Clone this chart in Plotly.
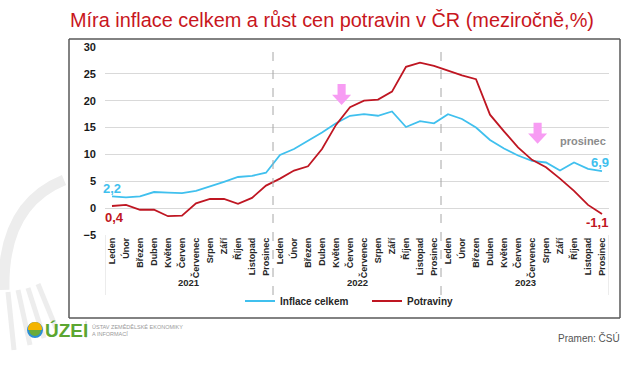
import plotly.graph_objects as go

# ---------------- data ----------------
months = ["Leden", "Únor", "Březen", "Duben", "Květen", "Červen", "Červenec",
          "Srpen", "Září", "Říjen", "Listopad", "Prosinec"]
years = ["2021", "2022", "2023"]

inflace = [2.2, 2.0, 2.2, 3.0, 2.9, 2.8, 3.2, 4.0, 4.9, 5.8, 6.0, 6.6,
           9.9, 11.0, 12.5, 14.1, 15.8, 17.2, 17.5, 17.2, 18.0, 15.1, 16.2, 15.8,
           17.5, 16.6, 15.0, 12.7, 11.1, 9.8, 8.8, 8.5, 7.0, 8.5, 7.3, 6.9]
potraviny = [0.4, 0.6, -0.3, -0.3, -1.5, -1.4, 0.9, 1.7, 1.7, 0.8, 1.9, 4.2,
             5.5, 7.0, 7.8, 11.0, 15.5, 18.8, 20.0, 20.2, 21.7, 26.3, 27.1, 26.5,
             25.6, 24.7, 24.0, 17.4, 14.3, 11.3, 9.0, 7.6, 5.5, 3.2, 0.6, -1.1]

y_ticks = [-5, 0, 5, 10, 15, 20, 25, 30]

BLUE = "#40c0ee"
RED = "#bf1622"
PINK = "#f79cf3"
FONT = "Liberation Sans, Arial, sans-serif"

n = len(inflace)
x_idx = list(range(n))
tick_text = [m for _ in years for m in months]

# pixel geometry helpers (for decorations outside the plot)
W, H = 630, 365
ML, MR, MT, MB = 105, 21, 47, 130
PW, PH = W - ML - MR, H - MT - MB


def px(x):
    return (x - ML) / PW


def py(y):
    return (H - MB - y) / PH


fig = go.Figure()
fig.add_trace(go.Scatter(x=x_idx, y=inflace, mode="lines", name="Inflace celkem",
                         line=dict(color=BLUE, width=1.8)))
fig.add_trace(go.Scatter(x=x_idx, y=potraviny, mode="lines", name="Potraviny",
                         line=dict(color=RED, width=1.8)))

shapes = []
# year separators (dashed) and label-area side lines
for k in range(1, len(years)):
    xs = 12 * k - 0.5
    shapes.append(dict(type="line", xref="x", yref="paper", x0=xs, x1=xs,
                       y0=py(295), y1=py(45), line=dict(color="#a6a6a6", width=1, dash="dash")))
for xs in (-0.5, n - 0.5):
    shapes.append(dict(type="line", xref="x", yref="paper", x0=xs, x1=xs,
                       y0=py(295), y1=0, line=dict(color="#d9d9d9", width=1)))

# pink arrows
arrows = [(16.4, 23.1), (30.4, 15.9)]
for ax, ay in arrows:
    sw, hw, sh, hh = 0.29, 0.68, 2.0, 1.9
    path = (f"M {ax - sw},{ay} L {ax + sw},{ay} L {ax + sw},{ay - sh} L {ax + hw},{ay - sh} "
            f"L {ax},{ay - sh - hh} L {ax - hw},{ay - sh} L {ax - sw},{ay - sh} Z")
    shapes.append(dict(type="path", xref="x", yref="y", path=path,
                       fillcolor=PINK, line=dict(width=0)))

# outer frame (four sides)
fl, fr, ft, fb = px(69), px(620), py(39), py(318)
for (x0, y0, x1, y1) in [(fl, ft, fr, ft), (fl, fb, fr, fb), (fl, fb, fl, ft), (fr, fb, fr, ft)]:
    shapes.append(dict(type="line", xref="paper", yref="paper", x0=x0, y0=y0, x1=x1, y1=y1,
                       line=dict(color="#595959", width=1.5)))

# faint watermark on the left
wm = "#ededed"
shapes.append(dict(type="path", xref="paper", yref="paper", layer="below",
                   path=f"M {px(64)},{py(180)} Q {px(2)},{py(205)} {px(4)},{py(290)}",
                   line=dict(color=wm, width=11)))
for (x0, y0, x1, y1) in [(8, 292, 14, 350), (18, 290, 30, 345), (28, 288, 44, 338),
                         (38, 284, 56, 328)]:
    shapes.append(dict(type="line", xref="paper", yref="paper", layer="below",
                       x0=px(x0), y0=py(y0), x1=px(x1), y1=py(y1),
                       line=dict(color=wm, width=5)))

# logo icon
shapes.append(dict(type="circle", xref="paper", yref="paper", x0=px(28), x1=px(42),
                   y0=py(337), y1=py(323), fillcolor="#6aab3a", line=dict(color="#2b8ed6", width=2)))
shapes.append(dict(type="path", xref="paper", yref="paper",
                   path=f"M {px(28)},{py(330)} Q {px(28)},{py(322)} {px(35)},{py(322)} "
                        f"Q {px(42)},{py(322)} {px(42)},{py(330)} Z",
                   fillcolor="#f4b400", line=dict(width=0)))
shapes.append(dict(type="line", xref="paper", yref="paper", x0=px(86), x1=px(86),
                   y0=py(338), y1=py(321), line=dict(color="#cccccc", width=1)))

annotations = []
# title
annotations.append(dict(xref="paper", yref="paper", x=px(68), y=py(20), xanchor="left",
                        yanchor="middle", showarrow=False,
                        text="Míra inflace celkem a růst cen potravin v ČR (meziročně,%)",
                        font=dict(family=FONT, size=19.9, color="#c8161d")))
# year labels
for k, yr in enumerate(years):
    annotations.append(dict(xref="x", yref="paper", x=12 * k + 5.5, y=py(290),
                            showarrow=False, text=f"<b>{yr}</b>",
                            font=dict(family=FONT, size=9.5, color="#262626")))
# value labels
lab = [
    (0, inflace[0], "2,2", BLUE, 0, 8),
    (0, potraviny[0], "0,4", RED, 2, -12),
    (n - 1, inflace[-1], "6,9", BLUE, -2, 9),
    (n - 1, potraviny[-1], "-1,1", RED, -5, -8),
]
for xi, yv, t, c, xs, ys in lab:
    annotations.append(dict(xref="x", yref="y", x=xi, y=yv, text=f"<b>{t}</b>",
                            showarrow=False, xshift=xs, yshift=ys,
                            font=dict(family=FONT, size=13, color=c)))
annotations.append(dict(xref="x", yref="y", x=n - 0.6, y=12.5, text="<b>prosinec</b>",
                        xanchor="right", showarrow=False,
                        font=dict(family=FONT, size=11, color="#8c8c8c")))
# logo text
annotations.append(dict(xref="paper", yref="paper", x=px(43), y=py(330), xanchor="left",
                        yanchor="middle", showarrow=False, text="<b>ÚZEI</b>",
                        font=dict(family=FONT, size=19, color="#5ca631")))
annotations.append(dict(xref="paper", yref="paper", x=px(90), y=py(330), xanchor="left",
                        yanchor="middle", showarrow=False, align="left",
                        text="ÚSTAV ZEMĚDĚLSKÉ EKONOMIKY<br>A INFORMACÍ",
                        font=dict(family=FONT, size=5.5, color="#9a9a9a")))
annotations.append(dict(xref="paper", yref="paper", x=px(622), y=py(338), xanchor="right",
                        yanchor="middle", showarrow=False, text="Pramen: ČSÚ",
                        font=dict(family=FONT, size=10, color="#555555")))

fig.update_layout(
    width=W, height=H,
    margin=dict(l=ML, r=MR, t=MT, b=MB, autoexpand=False),
    paper_bgcolor="white", plot_bgcolor="white",
    font=dict(family=FONT),
    showlegend=True,
    legend=dict(orientation="h", x=px(240), y=py(301), xanchor="left", yanchor="middle",
                font=dict(family=FONT, size=10, color="#262626", weight="bold"),
                entrywidth=82, entrywidthmode="pixels", bgcolor="rgba(0,0,0,0)"),
    xaxis=dict(range=[-0.5, n - 0.5], tickvals=x_idx, ticktext=tick_text, tickangle=-90,
               showgrid=False, zeroline=False, showline=False, ticks="",
               tickfont=dict(family=FONT, size=9, color="#262626", weight="bold")),
    yaxis=dict(range=[-5, 30], tickvals=y_ticks, showgrid=True, gridcolor="#d9d9d9",
               gridwidth=1, zeroline=False, showline=False, ticks="", ticklabelstandoff=8,
               tickfont=dict(family=FONT, size=11, color="#1a1a1a", weight="bold")),
    shapes=shapes,
    annotations=annotations,
)

fig.write_html("out.html", config={"displayModeBar": False},
               post_script="document.body.style.margin='0';")
